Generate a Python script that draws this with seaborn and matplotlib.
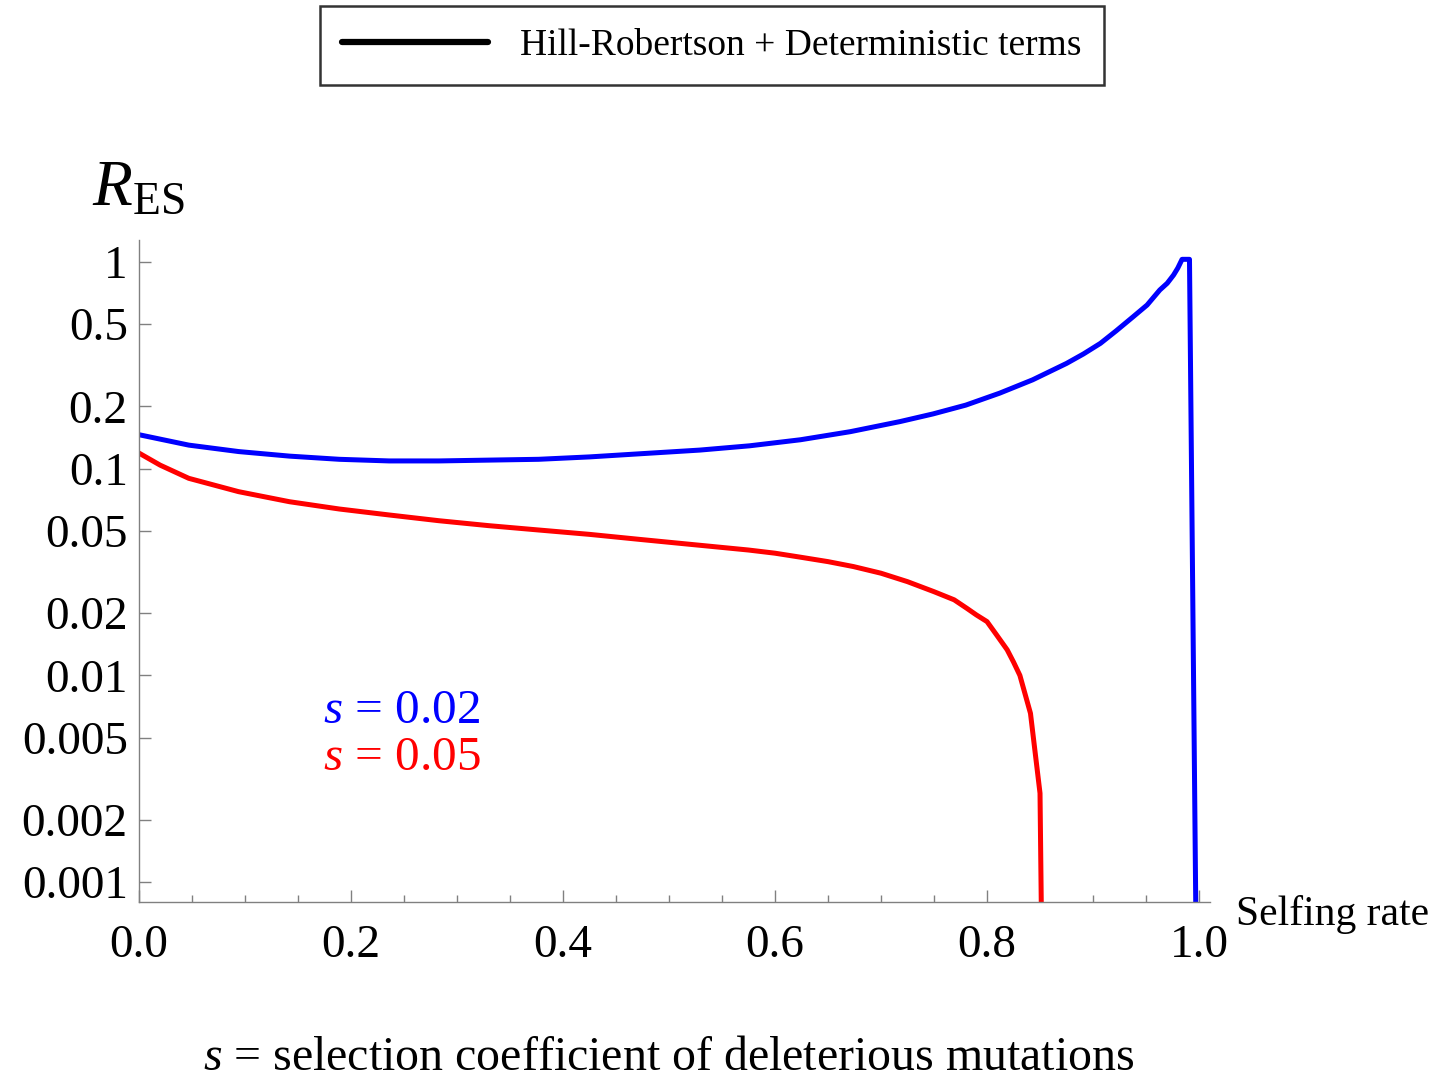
import numpy as np
import pandas as pd
import matplotlib
matplotlib.use("Agg")
import matplotlib.pyplot as plt
from matplotlib.lines import Line2D
from matplotlib.ticker import FixedLocator, MultipleLocator, NullLocator
import seaborn as sns

# ---- data ----
x_blue = [0.0, 0.047, 0.094, 0.142, 0.189, 0.236, 0.283, 0.330, 0.377, 0.425, 0.472,
          0.529, 0.576, 0.624, 0.671, 0.718, 0.749, 0.780, 0.812, 0.843, 0.875, 0.891,
          0.907, 0.922, 0.938, 0.951, 0.963, 0.970, 0.976, 0.980,
          0.984, 0.991, 0.997]
y_blue = [0.146, 0.130, 0.121, 0.115, 0.111, 0.109, 0.109, 0.110, 0.111, 0.114, 0.118,
          0.123, 0.129, 0.138, 0.151, 0.169, 0.184, 0.203, 0.232, 0.269, 0.323, 0.359,
          0.404, 0.465, 0.544, 0.619, 0.732, 0.789, 0.865, 0.935,
          1.03, 1.03, 0.0007]

x_red = [0.0, 0.02, 0.047, 0.094, 0.142, 0.189, 0.236, 0.283, 0.330, 0.377, 0.425, 0.472,
         0.529, 0.575, 0.60, 0.624, 0.65, 0.674, 0.70, 0.725, 0.75, 0.769, 0.781, 0.790,
         0.80, 0.809, 0.819, 0.825, 0.831, 0.841, 0.85, 0.8513]
y_red = [0.119, 0.104, 0.0898, 0.0774, 0.0692, 0.0638, 0.0597, 0.056, 0.053, 0.0505, 0.0481,
         0.0455, 0.0426, 0.0404, 0.039, 0.0373, 0.0355, 0.0336, 0.0312, 0.0284, 0.0254,
         0.0232, 0.0211, 0.0196, 0.0182, 0.0157, 0.0133, 0.0116, 0.0100, 0.00655,
         0.00269, 0.0007]

series_names = ["s = 0.02", "s = 0.05"]
series_colors = ["#0000ff", "#ff0000"]

y_ticks = [0.001, 0.002, 0.005, 0.01, 0.02, 0.05, 0.1, 0.2, 0.5, 1]
y_tick_labels = ["0.001", "0.002", "0.005", "0.01", "0.02", "0.05", "0.1", "0.2", "0.5", "1"]
x_ticks = [0.0, 0.2, 0.4, 0.6, 0.8, 1.0]
x_tick_labels = ["0.0", "0.2", "0.4", "0.6", "0.8", "1.0"]

legend_label = "Hill-Robertson + Deterministic terms"
x_label = "Selfing rate"
y_label = r"$R_{\mathrm{ES}}$"
caption = "$s$ = selection coefficient of deleterious mutations"

df = pd.concat([
    pd.DataFrame({"x": x_blue, "y": y_blue, "series": series_names[0]}),
    pd.DataFrame({"x": x_red, "y": y_red, "series": series_names[1]}),
], ignore_index=True)

# ---- style ----
sns.set_style("white")
plt.rcParams["font.family"] = ["Liberation Serif", "DejaVu Serif"]
plt.rcParams["mathtext.fontset"] = "custom"
plt.rcParams["mathtext.rm"] = "Liberation Serif"
plt.rcParams["mathtext.it"] = "Liberation Serif:italic"
plt.rcParams["mathtext.bf"] = "Liberation Serif:bold"
plt.rcParams["text.color"] = "black"
plt.rcParams["axes.labelcolor"] = "black"
plt.rcParams["xtick.color"] = "black"
plt.rcParams["ytick.color"] = "black"
plt.rcParams["legend.labelcolor"] = "black"

fig = plt.figure(figsize=(14.49, 10.78), dpi=100)
ax = fig.add_axes([0.0959, 0.1633, 0.7389, 0.6141])

sns.lineplot(data=df, x="x", y="y", hue="series", palette=dict(zip(series_names, series_colors)),
             estimator=None, sort=False, linewidth=3.6, legend=False, ax=ax)

ax.set_yscale("log")
ax.set_xlim(0, 1.01)
ax.set_ylim(0.000801, 1.278)

ax.yaxis.set_major_locator(FixedLocator(y_ticks))
ax.set_yticklabels(y_tick_labels)
ax.yaxis.set_minor_locator(NullLocator())
ax.xaxis.set_major_locator(FixedLocator(x_ticks))
ax.set_xticklabels(x_tick_labels)
ax.xaxis.set_minor_locator(MultipleLocator(0.05))

gray = "#808080"
for side in ["top", "right"]:
    ax.spines[side].set_visible(False)
for side in ["left", "bottom"]:
    ax.spines[side].set_color(gray)
    ax.spines[side].set_linewidth(1.0)

ax.tick_params(axis="both", which="both", bottom=True, left=True, top=False, right=False)
ax.tick_params(axis="both", which="major", direction="in", length=8.6, width=1.0,
               color=gray, labelsize=34, labelcolor="black")
ax.tick_params(axis="x", which="minor", direction="in", length=5, width=1.0, color=gray)
ax.tick_params(axis="y", which="major", pad=8)
ax.tick_params(axis="x", which="major", pad=16)
ax.set_xlabel("")
ax.set_ylabel("")

# in-plot labels
ax.text(0.174, 0.00589, "$s$ = 0.02", color=series_colors[0], fontsize=35.5, va="baseline", ha="left")
ax.text(0.174, 0.00349, "$s$ = 0.05", color=series_colors[1], fontsize=35.5, va="baseline", ha="left")

fig.text(0.853, 0.1419, x_label, fontsize=30, va="baseline", ha="left", color="black")
fig.text(0.0635, 0.8098, y_label, fontsize=47, va="baseline", ha="left", color="black")
fig.text(0.4617, 0.0075, caption, fontsize=34.5, va="baseline", ha="center", color="black")

handle = Line2D([], [], color="black", linewidth=4.5)
leg = fig.legend([handle], [legend_label], loc="center", bbox_to_anchor=(0.4914, 0.9578),
                 fontsize=27, frameon=True, fancybox=False, edgecolor="black",
                 handlelength=3.9, handletextpad=0.85, borderpad=0.6, borderaxespad=0)
leg.get_frame().set_linewidth(1.8)
for t in leg.get_texts():
    t.set_color("black")

fig.savefig("out.png", dpi=100)
